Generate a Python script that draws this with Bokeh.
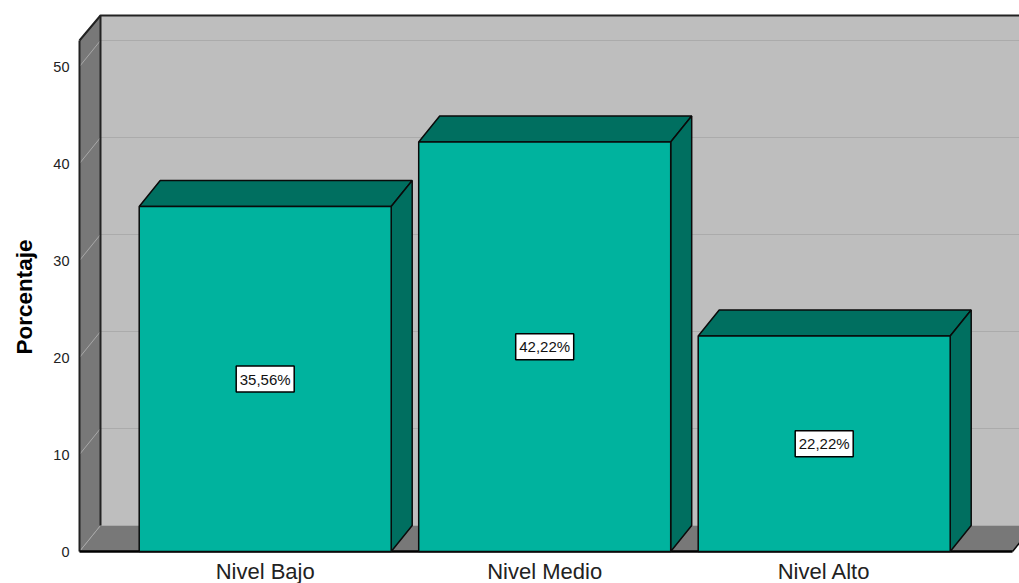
from bokeh.embed import file_html
from bokeh.models import ColumnDataSource, FixedTicker, Range1d, Title
from bokeh.plotting import figure
from bokeh.resources import INLINE

# Survey results by level
categories = ["Nivel Bajo", "Nivel Medio", "Nivel Alto"]
values = [35.56, 42.22, 22.22]
value_labels = ["35,56%", "42,22%", "22,22%"]
y_ticks = [0, 10, 20, 30, 40, 50]

# Colours
FACE = "#00B39E"
SHADE = "#006F60"
WALL = "#787878"
BACK = "#BEBEBE"
GRID = "#ABABAB"
EDGE = "#0A0A0A"

# Scale of the plot area
PX_PER_UNIT_Y = 9.7
PX_PER_UNIT_X = 279.5
PAD = 3  # spare pixels so strokes on the box edges are not clipped
FRAME_W, FRAME_H = 940 + PAD, 551 + PAD

# Oblique projection offset of the 3D box
DX = 21 / PX_PER_UNIT_X
DY = 26 / PX_PER_UNIT_Y
BAR_W = 252 / PX_PER_UNIT_X

x_start = 1 - 185.7 / PX_PER_UNIT_X
x_end = x_start + 940 / PX_PER_UNIT_X
y_end = 551 / PX_PER_UNIT_Y
floor_end = x_start + 933 / PX_PER_UNIT_X
back_right = x_end + 0.2
top_y = y_end - 15 / PX_PER_UNIT_Y
front_top_y = y_end - 40 / PX_PER_UNIT_Y

p = figure(
    width=1019,
    height=583,
    frame_width=FRAME_W,
    frame_height=FRAME_H,
    min_border_left=79 - PAD,
    min_border_right=0,
    min_border_top=0,
    min_border_bottom=32 - PAD,
    x_range=Range1d(x_start - PAD / PX_PER_UNIT_X, x_end),
    y_range=Range1d(-PAD / PX_PER_UNIT_Y, y_end),
    output_backend="svg",
    toolbar_location=None,
    background_fill_color="white",
    border_fill_color="white",
)
p.outline_line_color = None
p.grid.visible = False

# Axes carry only their labels; the box edges are drawn as glyphs
p.xaxis.ticker = FixedTicker(ticks=[1, 2, 3])
p.xaxis.major_label_overrides = {i + 1: c for i, c in enumerate(categories)}
p.xaxis.major_label_text_font = "Liberation Sans"
p.xaxis.major_label_text_font_size = "22px"
p.xaxis.major_label_text_color = "#222222"
p.xaxis.major_label_standoff = 4
p.xaxis.major_tick_out = 0
p.xaxis.axis_line_color = None
p.xaxis.major_tick_line_color = None
p.xaxis.minor_tick_line_color = None

p.yaxis.ticker = FixedTicker(ticks=y_ticks)
p.yaxis.major_label_text_font = "Liberation Sans"
p.yaxis.major_label_text_font_size = "14.5px"
p.yaxis.major_label_text_color = "#222222"
p.yaxis.major_label_standoff = 1
p.yaxis.major_label_orientation = "horizontal"
p.yaxis.axis_line_color = None
p.yaxis.major_tick_line_color = None
p.yaxis.minor_tick_line_color = None
# A blank axis label holds the gap between tick labels and the rotated title
p.yaxis.axis_label = " "
p.yaxis.axis_label_text_font_size = "1px"
p.yaxis.axis_label_standoff = 7

# Rotated axis title, placed along the height of the back wall
p.add_layout(Title(
    text="Porcentaje",
    align="left",
    offset=FRAME_H - 354,
    standoff=5,
    text_font="Liberation Sans",
    text_font_style="bold",
    text_font_size="22.5px",
    text_color="black",
), "left")

# Back wall, side wall and floor
p.patch(
    [x_start + DX, back_right, back_right, x_start + DX],
    [DY, DY, top_y, top_y],
    fill_color=BACK,
    line_color=None,
)
p.patch(
    [x_start, x_start + DX, x_start + DX, x_start],
    [0, DY, top_y, front_top_y],
    fill_color=WALL,
    line_color=None,
)
p.patch(
    [x_start, floor_end, floor_end + DX, x_start + DX],
    [0, 0, DY, DY],
    fill_color=WALL,
    line_color=None,
)

# Gridlines run across the back wall and fold down the side wall
for t in y_ticks:
    p.line([x_start, x_start + DX], [t, t + DY], line_color="#A8A8A8", line_width=1)
    if t > 0:
        p.line([x_start + DX, back_right], [t + DY, t + DY], line_color=GRID, line_width=1)

# Box outlines
p.line([x_start + DX, x_start + DX], [DY, top_y], line_color="#222222", line_width=2)
p.line([x_start, x_start], [0, front_top_y], line_color="#222222", line_width=2)
p.line([x_start, x_start + DX, back_right], [front_top_y, top_y, top_y], line_color="#222222", line_width=2)
p.line([floor_end, floor_end + DX], [0, DY], line_color=EDGE, line_width=1.5)
p.line([x_start, floor_end], [0, 0], line_color="black", line_width=2.5)

# Bars: front face plus shaded top and side
centers = [i + 1 for i in range(len(values))]
for c, v in zip(centers, values):
    l, r = c - BAR_W / 2, c + BAR_W / 2
    p.patch([l, l + DX, r + DX, r], [v, v + DY, v + DY, v], fill_color=SHADE, line_color=EDGE, line_width=1.5)
    p.patch([r, r + DX, r + DX, r], [0, DY, v + DY, v], fill_color=SHADE, line_color=EDGE, line_width=1.5)
    p.patch([l, r, r, l], [0, 0, v, v], fill_color=FACE, line_color=EDGE, line_width=1.5)

# Value labels sit at mid-height of each bar
src = ColumnDataSource(dict(
    x=centers,
    y=[v / 2 for v in values],
    label=value_labels,
))
p.rect(
    "x", "y", width=58, height=26, width_units="screen", height_units="screen",
    source=src, fill_color="white", line_color="black", line_width=1.5,
)
p.text(
    "x", "y", text="label", source=src,
    text_align="center", text_baseline="middle",
    text_font_size="15px", text_color="#111111",
    text_font={"value": "Liberation Sans"},
)

open("out.html", "w").write(file_html(p, INLINE))
